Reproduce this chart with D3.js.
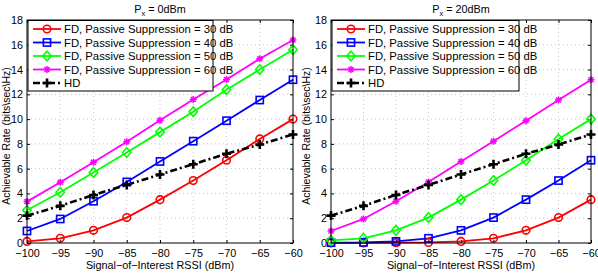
<!DOCTYPE html>
<html>
<head>
<meta charset="utf-8">
<style>
  body { margin: 0; background: #fff; }
  svg { display: block; font-family: "Liberation Sans", Arial, sans-serif; }
  .tick text { font-size: 10px; }
</style>
</head>
<body>
<svg width="598" height="274"></svg>
<script src="https://cdn.jsdelivr.net/npm/d3@7"></script>
<script>
// x values (signal-of-interest RSSI, dBm)
var rssi = [-100, -95, -90, -85, -80, -75, -70, -65, -60];
var xTicks = [-100, -95, -90, -85, -80, -75, -70, -65, -60];
var yTicks = [0, 2, 4, 6, 8, 10, 12, 14, 16, 18];

// left panel, Px = 0dBm
var fd30_0 = [0.13, 0.38, 1.02, 2.05, 3.5, 5.04, 6.68, 8.4, 10.0];
var fd40_0 = [0.97, 1.94, 3.37, 4.93, 6.58, 8.22, 9.87, 11.54, 13.18];
var fd50_0 = [2.64, 4.1, 5.69, 7.3, 8.95, 10.6, 12.37, 14.0, 15.6];
var fd60_0 = [3.34, 4.9, 6.52, 8.17, 9.9, 11.59, 13.2, 14.87, 16.38];

// right panel, Px = 20dBm
var fd30_20 = [0.01, 0.01, 0.03, 0.05, 0.13, 0.38, 1.02, 2.05, 3.5];
var fd40_20 = [0.03, 0.05, 0.13, 0.38, 1.02, 2.05, 3.5, 5.04, 6.68];
var fd50_20 = [0.22, 0.38, 1.02, 2.05, 3.5, 5.04, 6.68, 8.4, 10.0];
var fd60_20 = [0.97, 1.94, 3.37, 4.93, 6.58, 8.22, 9.87, 11.54, 13.18];

// half duplex (same in both panels)
var hd = [2.21, 3.0, 3.88, 4.69, 5.53, 6.36, 7.2, 7.95, 8.76];

var seriesNames = [
  "FD, Passive Suppression = 30 dB",
  "FD, Passive Suppression = 40 dB",
  "FD, Passive Suppression = 50 dB",
  "FD, Passive Suppression = 60 dB",
  "HD"
];
var seriesColors = ["#ff0000", "#0000ff", "#00ff00", "#ff00ff", "#000000"];
var seriesMarkers = ["circle", "square", "diamond", "star", "plus"];

var svg = d3.select("svg");

function drawMarker(sel, type, color) {
  if (type == "circle") {
    sel.append("circle").attr("r", 3.8)
      .attr("fill", "none").attr("stroke", color).attr("stroke-width", 1.6);
  } else if (type == "square") {
    sel.append("rect").attr("x", -3.6).attr("y", -3.6).attr("width", 7.2).attr("height", 7.2)
      .attr("fill", "none").attr("stroke", color).attr("stroke-width", 1.6);
  } else if (type == "diamond") {
    sel.append("path").attr("d", "M0,-4.8L4.2,0L0,4.8L-4.2,0Z")
      .attr("fill", "none").attr("stroke", color).attr("stroke-width", 1.6);
  } else if (type == "star") {
    sel.append("path").attr("d", "M-3.5,0H3.5M0,-3.5V3.5M-2.5,-2.5L2.5,2.5M-2.5,2.5L2.5,-2.5")
      .attr("stroke", color).attr("stroke-width", 1.5);
  } else {
    sel.append("path").attr("d", "M-4.5,0H4.5M0,-4.5V4.5")
      .attr("stroke", color).attr("stroke-width", 2.6);
  }
}

function drawPanel(left, right, title, data, legendW, ylabelX) {
  var top = 20, bottom = 243;

  var x = d3.scaleLinear().domain([-100, -60]).range([left, right]);
  var y = d3.scaleLinear().domain([0, 18]).range([bottom, top]);

  var g = svg.append("g");

  // dotted grid
  g.append("g").selectAll("line.gx")
    .data(xTicks.slice(1, -1))
    .enter().append("line")
    .attr("x1", function (d) { return x(d); })
    .attr("x2", function (d) { return x(d); })
    .attr("y1", top).attr("y2", bottom)
    .attr("stroke", "#b8b8b8").attr("stroke-width", 0.8)
    .attr("stroke-dasharray", "1,3");
  g.append("g").selectAll("line.gy")
    .data(yTicks.slice(1, -1))
    .enter().append("line")
    .attr("y1", function (d) { return y(d); })
    .attr("y2", function (d) { return y(d); })
    .attr("x1", left).attr("x2", right)
    .attr("stroke", "#b8b8b8").attr("stroke-width", 0.8)
    .attr("stroke-dasharray", "1,3");

  var fmt = function (d) { return d < 0 ? "\u2212" + Math.abs(d) : d; };

  g.append("g")
    .attr("transform", "translate(0," + bottom + ")")
    .call(d3.axisBottom(x).tickValues(xTicks).tickSize(-3).tickPadding(6).tickFormat(fmt))
    .call(function (a) { a.select(".domain").remove(); });
  g.append("g")
    .attr("transform", "translate(0," + top + ")")
    .call(d3.axisTop(x).tickValues(xTicks).tickSize(-3).tickFormat(""))
    .call(function (a) { a.select(".domain").remove(); });
  g.append("g")
    .attr("transform", "translate(" + left + ",0)")
    .call(d3.axisLeft(y).tickValues(yTicks).tickSize(-3).tickPadding(4))
    .call(function (a) { a.select(".domain").remove(); });
  g.append("g")
    .attr("transform", "translate(" + right + ",0)")
    .call(d3.axisRight(y).tickValues(yTicks).tickSize(-3).tickFormat(""))
    .call(function (a) { a.select(".domain").remove(); });
  g.selectAll(".tick line").attr("stroke", "#000");
  g.selectAll(".tick text").attr("fill", "#000").style("font-size", "10.8px");

  // series lines
  var line = d3.line()
    .x(function (d, i) { return x(rssi[i]); })
    .y(function (d) { return y(d); });

  data.forEach(function (vals, k) {
    var isHd = k == 4;
    g.append("path")
      .datum(vals)
      .attr("fill", "none")
      .attr("stroke", seriesColors[k])
      .attr("stroke-width", isHd ? 2.6 : 1.8)
      .attr("stroke-dasharray", isHd ? "7,3,2,3" : null)
      .attr("d", line);
  });
  data.forEach(function (vals, k) {
    g.append("g").selectAll("g")
      .data(vals)
      .enter().append("g")
      .attr("transform", function (d, i) { return "translate(" + x(rssi[i]) + "," + y(d) + ")"; })
      .each(function () { drawMarker(d3.select(this), seriesMarkers[k], seriesColors[k]); });
  });

  // axes box
  g.append("rect")
    .attr("x", left).attr("y", top)
    .attr("width", right - left).attr("height", bottom - top)
    .attr("fill", "none").attr("stroke", "#000").attr("stroke-width", 1);

  // legend
  var lg = g.append("g").attr("transform", "translate(" + (left + 1) + "," + (top + 0.5) + ")");
  lg.append("rect")
    .attr("width", legendW).attr("height", 70.5)
    .attr("fill", "#fff").attr("stroke", "#000").attr("stroke-width", 1);
  seriesNames.forEach(function (name, k) {
    var ry = 8.5 + k * 13.5;
    var isHd = k == 4;
    lg.append("line")
      .attr("x1", 5).attr("x2", 33).attr("y1", ry).attr("y2", ry)
      .attr("stroke", seriesColors[k])
      .attr("stroke-width", isHd ? 2.6 : 1.8)
      .attr("stroke-dasharray", isHd ? "7,3,2,3" : null);
    var m = lg.append("g").attr("transform", "translate(19," + ry + ")");
    drawMarker(m, seriesMarkers[k], seriesColors[k]);
    lg.append("text")
      .attr("x", 36).attr("y", ry + 4)
      .style("font-size", "11.3px")
      .text(name);
  });

  // title with subscript
  var t = svg.append("text")
    .attr("x", (left + right) / 2).attr("y", 13)
    .attr("text-anchor", "middle")
    .style("font-size", "10.8px");
  t.append("tspan").text("P");
  t.append("tspan").attr("dy", 3).style("font-size", "7.5px").text("x");
  t.append("tspan").attr("dy", -3).text(" = " + title);

  // axis labels
  svg.append("text")
    .attr("x", (left + right) / 2).attr("y", 269)
    .attr("text-anchor", "middle")
    .style("font-size", "10.8px")
    .text("Signal\u2212of\u2212Interest RSSI (dBm)");
  svg.append("text")
    .attr("transform", "translate(" + ylabelX + ",136) rotate(-90)")
    .attr("text-anchor", "middle")
    .style("font-size", "10.5px")
    .text("Achievable Rate (bits\\sec\\Hz)");
}

drawPanel(27, 293, "0dBm", [fd30_0, fd40_0, fd50_0, fd60_0, hd], 185, 9.5);
drawPanel(331, 591, "20dBm", [fd30_20, fd40_20, fd50_20, fd60_20, hd], 187, 310);
</script>
</body>
</html>
